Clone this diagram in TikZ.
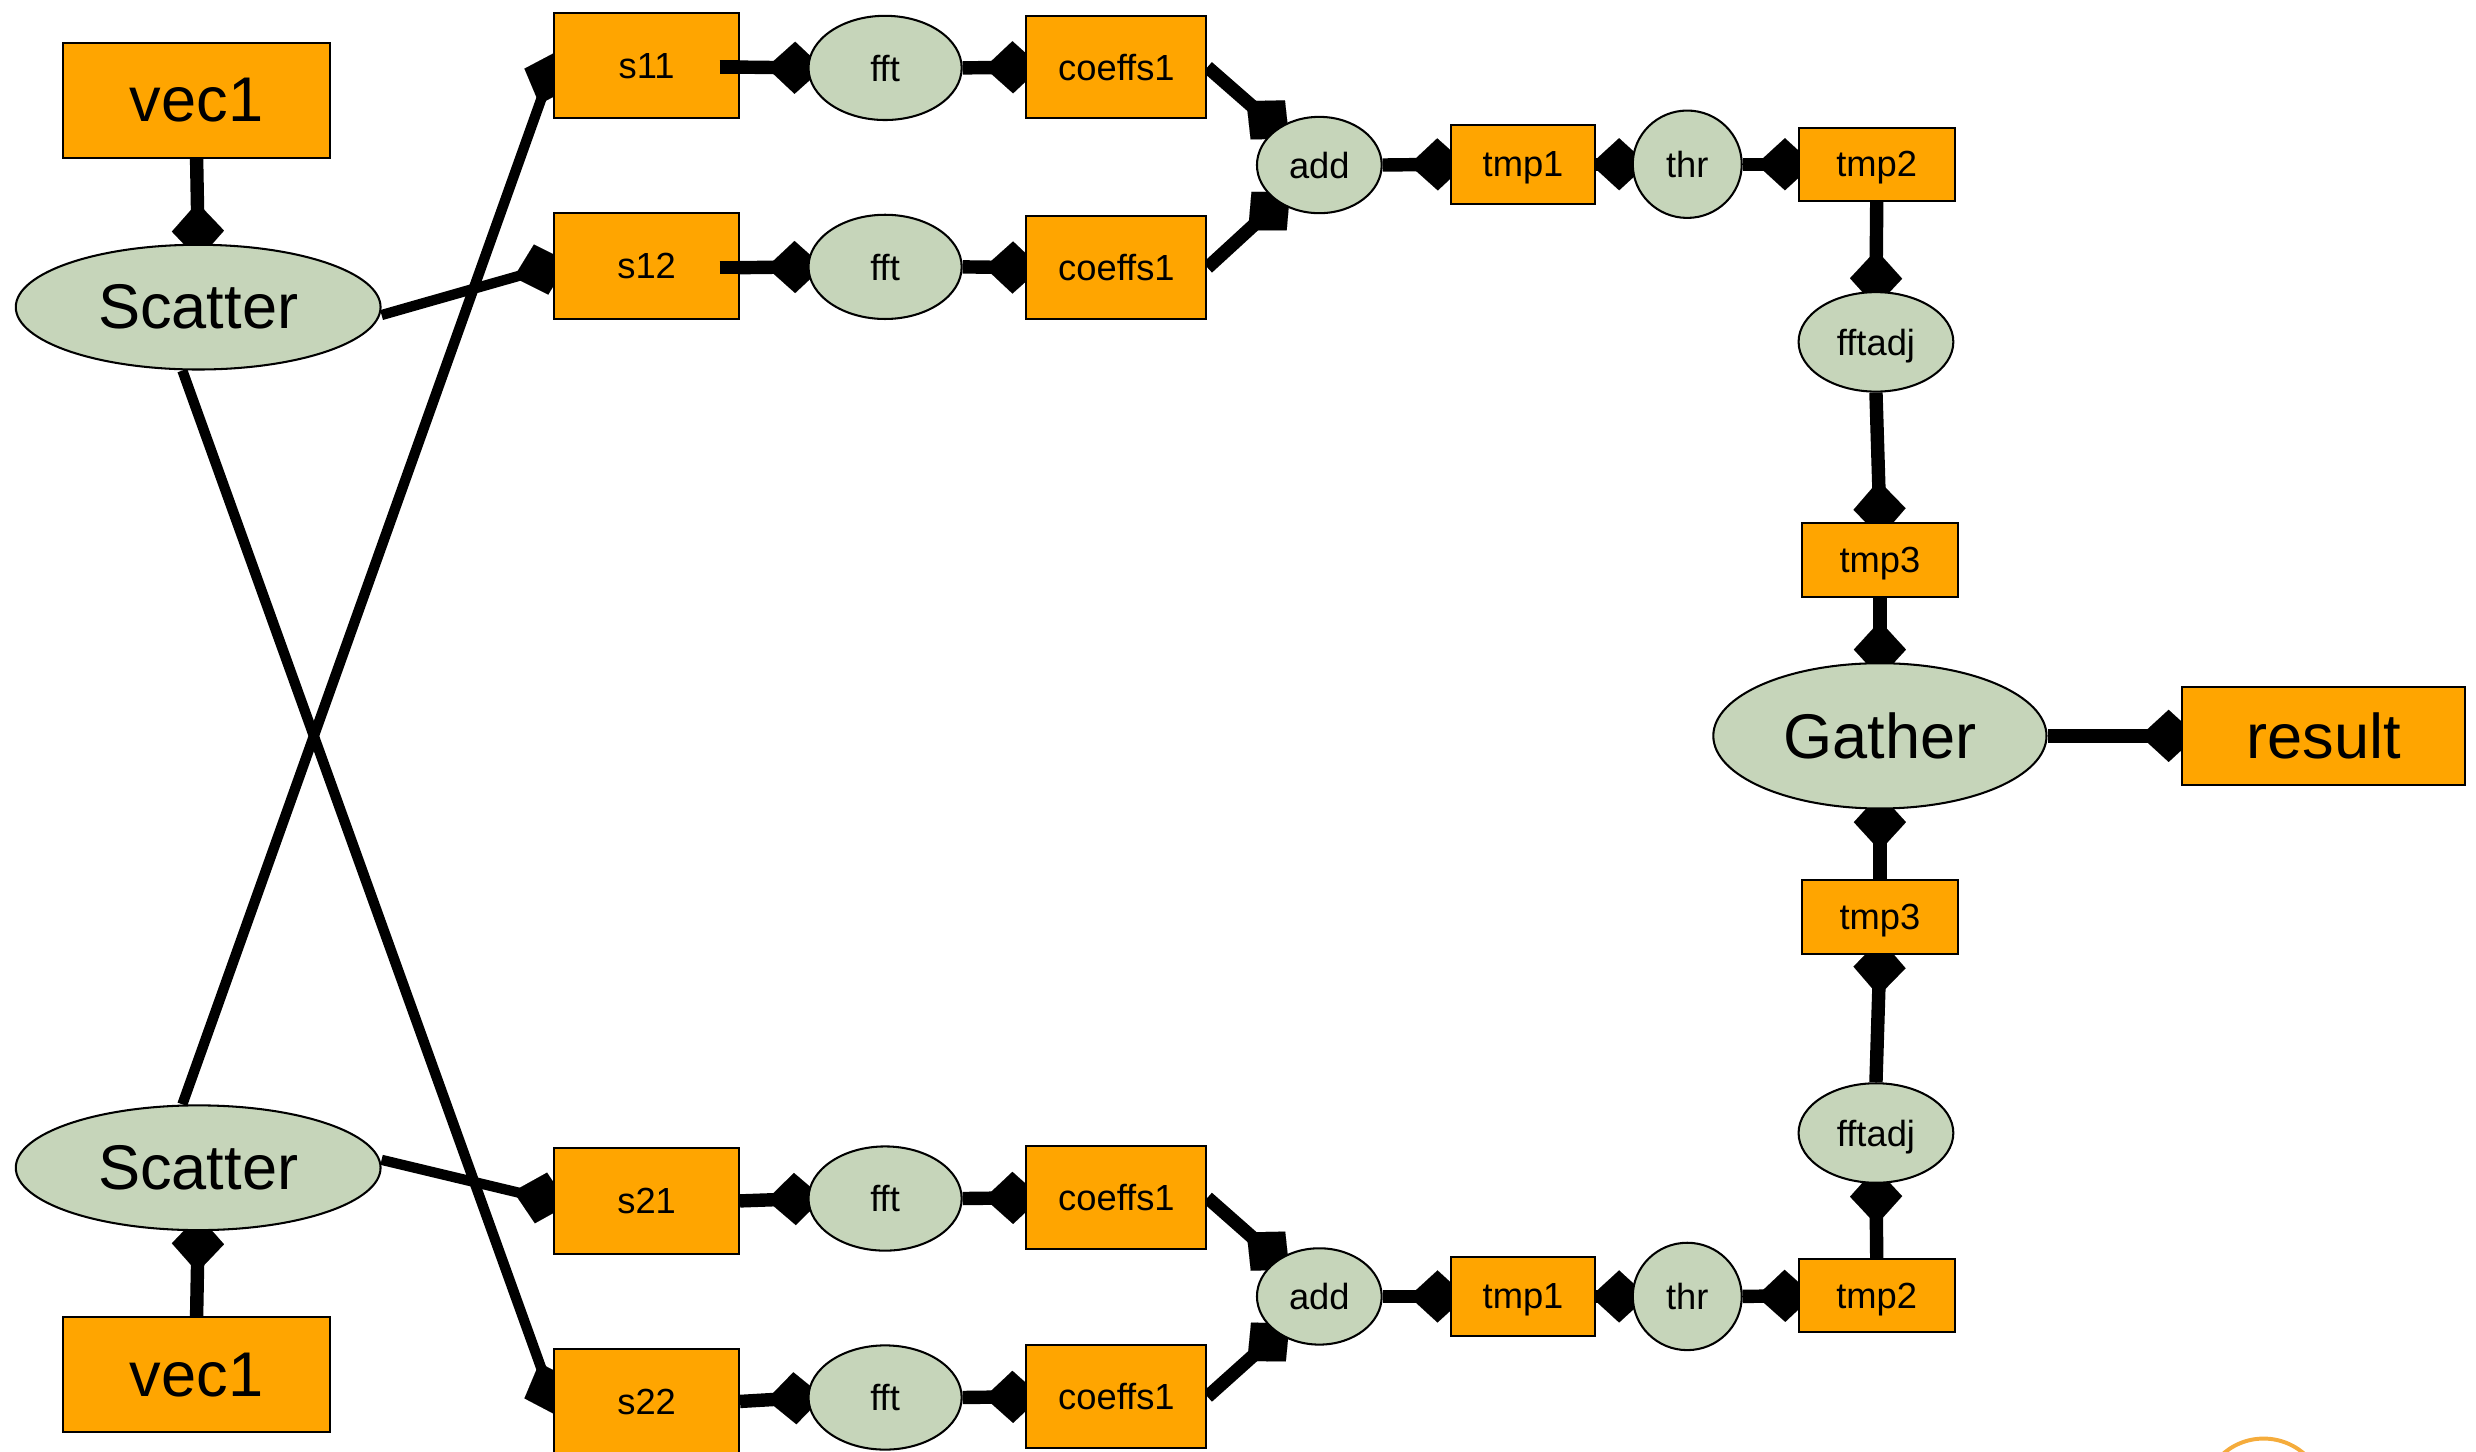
\documentclass[tikz,border=0pt]{standalone}
\usepackage{fontspec}
\setmainfont{Liberation Sans}
\usetikzlibrary{arrows.meta,backgrounds,calc,shapes.geometric}
\definecolor{boxorange}{RGB}{255,165,0}
\definecolor{opgreen}{RGB}{198,213,186}
\definecolor{logoorange}{RGB}{245,172,60}
\begin{document}
\begin{tikzpicture}[x=1pt,y=-1pt,
  databox/.style={draw=black, line width=1.3pt, fill=boxorange, rectangle, inner sep=0pt},
  opnode/.style={draw=black, line width=1.3pt, fill=opgreen, ellipse, inner sep=0pt},
  bigtxt/.style={font=\fontsize{40}{44}\selectfont},
  smalltxt/.style={font=\fontsize{23}{26}\selectfont, text depth=0pt},
  link/.style={line width=8.5pt, -{Diamond[length=36pt,width=33pt,line width=0.01pt]}, shorten >=-10pt},
  thinlink/.style={link, line width=6.5pt},
  sbox/.style={databox, smalltxt, minimum width=117pt, minimum height=67pt},
  fftnode/.style={opnode, smalltxt, minimum width=97pt, minimum height=66pt},
  cbox/.style={databox, smalltxt, minimum width=114pt, minimum height=65pt},
  addnode/.style={opnode, smalltxt, minimum width=79pt, minimum height=61pt},
  tmpa/.style={databox, smalltxt, minimum width=91pt, minimum height=50pt},
  thrnode/.style={opnode, smalltxt, minimum width=69pt, minimum height=68pt},
  tmpb/.style={databox, smalltxt, minimum width=99pt, minimum height=46pt},
  adjnode/.style={opnode, smalltxt, minimum width=98pt, minimum height=63pt},
  tmpc/.style={databox, smalltxt, minimum width=99pt, minimum height=47pt}
]
\useasboundingbox (0,0) rectangle (1568,919);
\clip (0,0) rectangle (1568,919);

% left column
\node[databox, bigtxt, minimum width=169pt, minimum height=73pt] (v1) at (124.5,63.5) {vec1};
\node[opnode, bigtxt, minimum width=231pt, minimum height=79pt] (sc1) at (125.5,194.5) {Scatter};
\node[opnode, bigtxt, minimum width=231pt, minimum height=79pt] (sc2) at (125.5,739.5) {Scatter};
\node[databox, bigtxt, minimum width=169pt, minimum height=73pt] (v2) at (124.5,870.5) {vec1};

% s boxes
\node[sbox] (s11) at (409.5,41.5) {s11};
\node[sbox] (s12) at (409.5,168.5) {s12};
\node[sbox] (s21) at (409.5,760.5) {s21};
\node[sbox] (s22) at (409.5,887.5) {s22};

% fft
\node[fftnode] (f1) at (560.5,43) {fft};
\node[fftnode] (f2) at (560.5,169) {fft};
\node[fftnode] (f3) at (560.5,759) {fft};
\node[fftnode] (f4) at (560.5,885) {fft};

% coeffs
\node[cbox] (c1) at (707,42.5) {coeffs1};
\node[cbox] (c2) at (707,169.5) {coeffs1};
\node[cbox] (c3) at (707,758.5) {coeffs1};
\node[cbox] (c4) at (707,884.5) {coeffs1};

% add, tmp1, thr, tmp2
\node[addnode] (a1) at (835.5,104.5) {add};
\node[addnode] (a2) at (835.5,821) {add};
\node[tmpa] (t1a) at (964.5,104) {tmp1};
\node[tmpa] (t1b) at (964.5,821) {tmp1};
\node[thrnode] (th1) at (1068.5,104) {thr};
\node[thrnode] (th2) at (1068.5,821) {thr};
\node[tmpb] (t2a) at (1188.5,104) {tmp2};
\node[tmpb] (t2b) at (1188.5,820.5) {tmp2};

% right column
\node[adjnode] (fa1) at (1188,216.5) {fftadj};
\node[adjnode] (fa2) at (1188,717.5) {fftadj};
\node[tmpc] (t3a) at (1190.5,354.5) {tmp3};
\node[tmpc] (t3b) at (1190.5,580.5) {tmp3};
\node[opnode, bigtxt, minimum width=211pt, minimum height=92pt] (g) at (1190.5,466) {Gather};
\node[databox, bigtxt, minimum width=179pt, minimum height=62pt] (r) at (1471.5,466) {result};

% partial logo ring at the bottom edge
\draw[logoorange, line width=2.5pt] (1433.5,950) circle (39);

% line starts that lie over the s11 / s12 boxes
\draw[line width=8.5pt] ($(s11.east)+(-13,1)$) -- ($(s11.east)+(0,1)$);
\draw[line width=8.5pt] ($(s12.east)+(-13,1)$) -- ($(s12.east)+(0,1)$);

\begin{scope}[on background layer]
  \draw[link] (v1.south) -- (sc1.north);
  \draw[link] (v2.north) -- (sc2.south);
  \draw[thinlink] ($(sc1.east)+(0,5)$) -- (s12.west);
  \draw[thinlink] ($(sc1.south)+(-10,0)$) -- (s22.west);
  \draw[thinlink] ($(sc2.north)+(-10,0)$) -- (s11.west);
  \draw[thinlink] ($(sc2.east)+(0,-5)$) -- (s21.west);

  \draw[link] ($(s11.east)+(0,1)$) -- (f1.west);
  \draw[link] ($(s12.east)+(0,1)$) -- (f2.west);
  \draw[link] (s21.east) -- (f3.west);
  \draw[link] (s22.east) -- (f4.west);
  \draw[link] (f1.east) -- (c1.west);
  \draw[link] (f2.east) -- (c2.west);
  \draw[link] (f3.east) -- (c3.west);
  \draw[link] (f4.east) -- (c4.west);

  \draw[link] (c1.east) -- (a1);
  \draw[link] (c2.east) -- (a1);
  \draw[link] (c3.east) -- (a2);
  \draw[link] (c4.east) -- (a2);

  \draw[link] (a1.east) -- (t1a.west);
  \draw[link] (t1a.east) -- (th1.west);
  \draw[link] (th1.east) -- (t2a.west);
  \draw[link] (a2.east) -- (t1b.west);
  \draw[link] (t1b.east) -- (th2.west);
  \draw[link] (th2.east) -- (t2b.west);

  \draw[link] (t2a.south) -- (fa1.north);
  \draw[link] (fa1.south) -- (t3a.north);
  \draw[link] (t3a.south) -- (g.north);
  \draw[link] (t2b.north) -- (fa2.south);
  \draw[link] (fa2.north) -- (t3b.south);
  \draw[link] (t3b.north) -- (g.south);
  \draw[link] (g.east) -- (r.west);
\end{scope}
\end{tikzpicture}
\end{document}
